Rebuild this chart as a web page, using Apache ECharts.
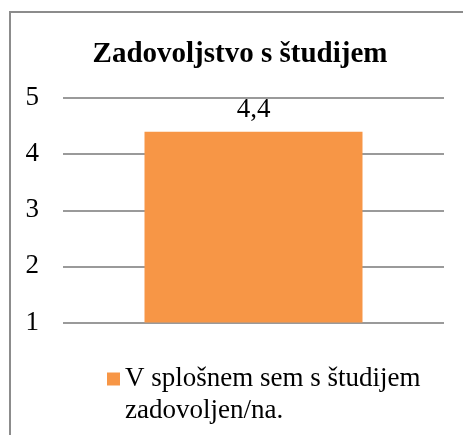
<!DOCTYPE html>
<html lang="sl">
<head>
    <meta charset="UTF-8">
    <title>Zadovoljstvo s študijem</title>
    <script src="https://cdn.jsdelivr.net/npm/echarts@6/dist/echarts.min.js"></script>
    <style>
        html, body { margin: 0; padding: 0; background: #fff; }
        #main { width: 463px; height: 435px; }
    </style>
</head>
<body>
<div id="main"></div>
<script type="text/javascript">
    // podatki
    var titleText = 'Zadovoljstvo s študijem';
    var categories = ['V splošnem sem s študijem zadovoljen/na.'];
    var seriesName = 'V splošnem sem s študijem zadovoljen/na.';
    var values = [4.4];
    var yTicks = [1, 2, 3, 4, 5];

    var serif = '"Liberation Serif", "DejaVu Serif", serif';
    var myChart = echarts.init(document.getElementById('main'));

    var option = {
        animation: false,
        title: {
            text: titleText,
            left: 240,
            textAlign: 'center',
            top: 40,
            padding: 0,
            textStyle: { fontFamily: serif, fontSize: 29, fontWeight: 'bold', color: '#000' }
        },
        graphic: [{
            type: 'rect',
            shape: { x: 10, y: 12, width: 480, height: 450 },
            style: { fill: 'none', stroke: '#8c8c8c', lineWidth: 2 }
        }],
        legend: {
            left: 107,
            top: 331,
            padding: 0,
            itemWidth: 13,
            itemHeight: 13,
            icon: 'rect',
            data: [seriesName],
            // prazna vrstica zgoraj, da je ikona poravnana s prvo vrstico
            formatter: function (name) {
                return '\n' + name.replace(' zadovoljen', '\nzadovoljen');
            },
            textStyle: {
                fontFamily: serif, fontSize: 27, color: '#000', lineHeight: 32
            }
        },
        grid: { left: 63, right: 19, top: 98, bottom: 112.5 },
        xAxis: {
            type: 'category',
            data: categories,
            axisLine: { show: false },
            axisTick: { show: false },
            axisLabel: { show: false }
        },
        yAxis: {
            type: 'value',
            min: yTicks[0],
            max: yTicks[yTicks.length - 1],
            interval: 1,
            axisLine: { show: false },
            axisTick: { show: false },
            axisLabel: {
                margin: 24,
                fontFamily: serif, fontSize: 27, color: '#000'
            },
            splitLine: { lineStyle: { color: '#9a9a9a', width: 2 } }
        },
        series: [{
            name: seriesName,
            type: 'bar',
            data: values,
            barWidth: 218,
            itemStyle: { color: '#f79646' },
            label: {
                show: true,
                position: 'top',
                distance: 8,
                fontFamily: serif, fontSize: 27, color: '#000',
                formatter: function (p) { return String(p.value).replace('.', ','); }
            }
        }]
    };

    myChart.setOption(option);
</script>
</body>
</html>
